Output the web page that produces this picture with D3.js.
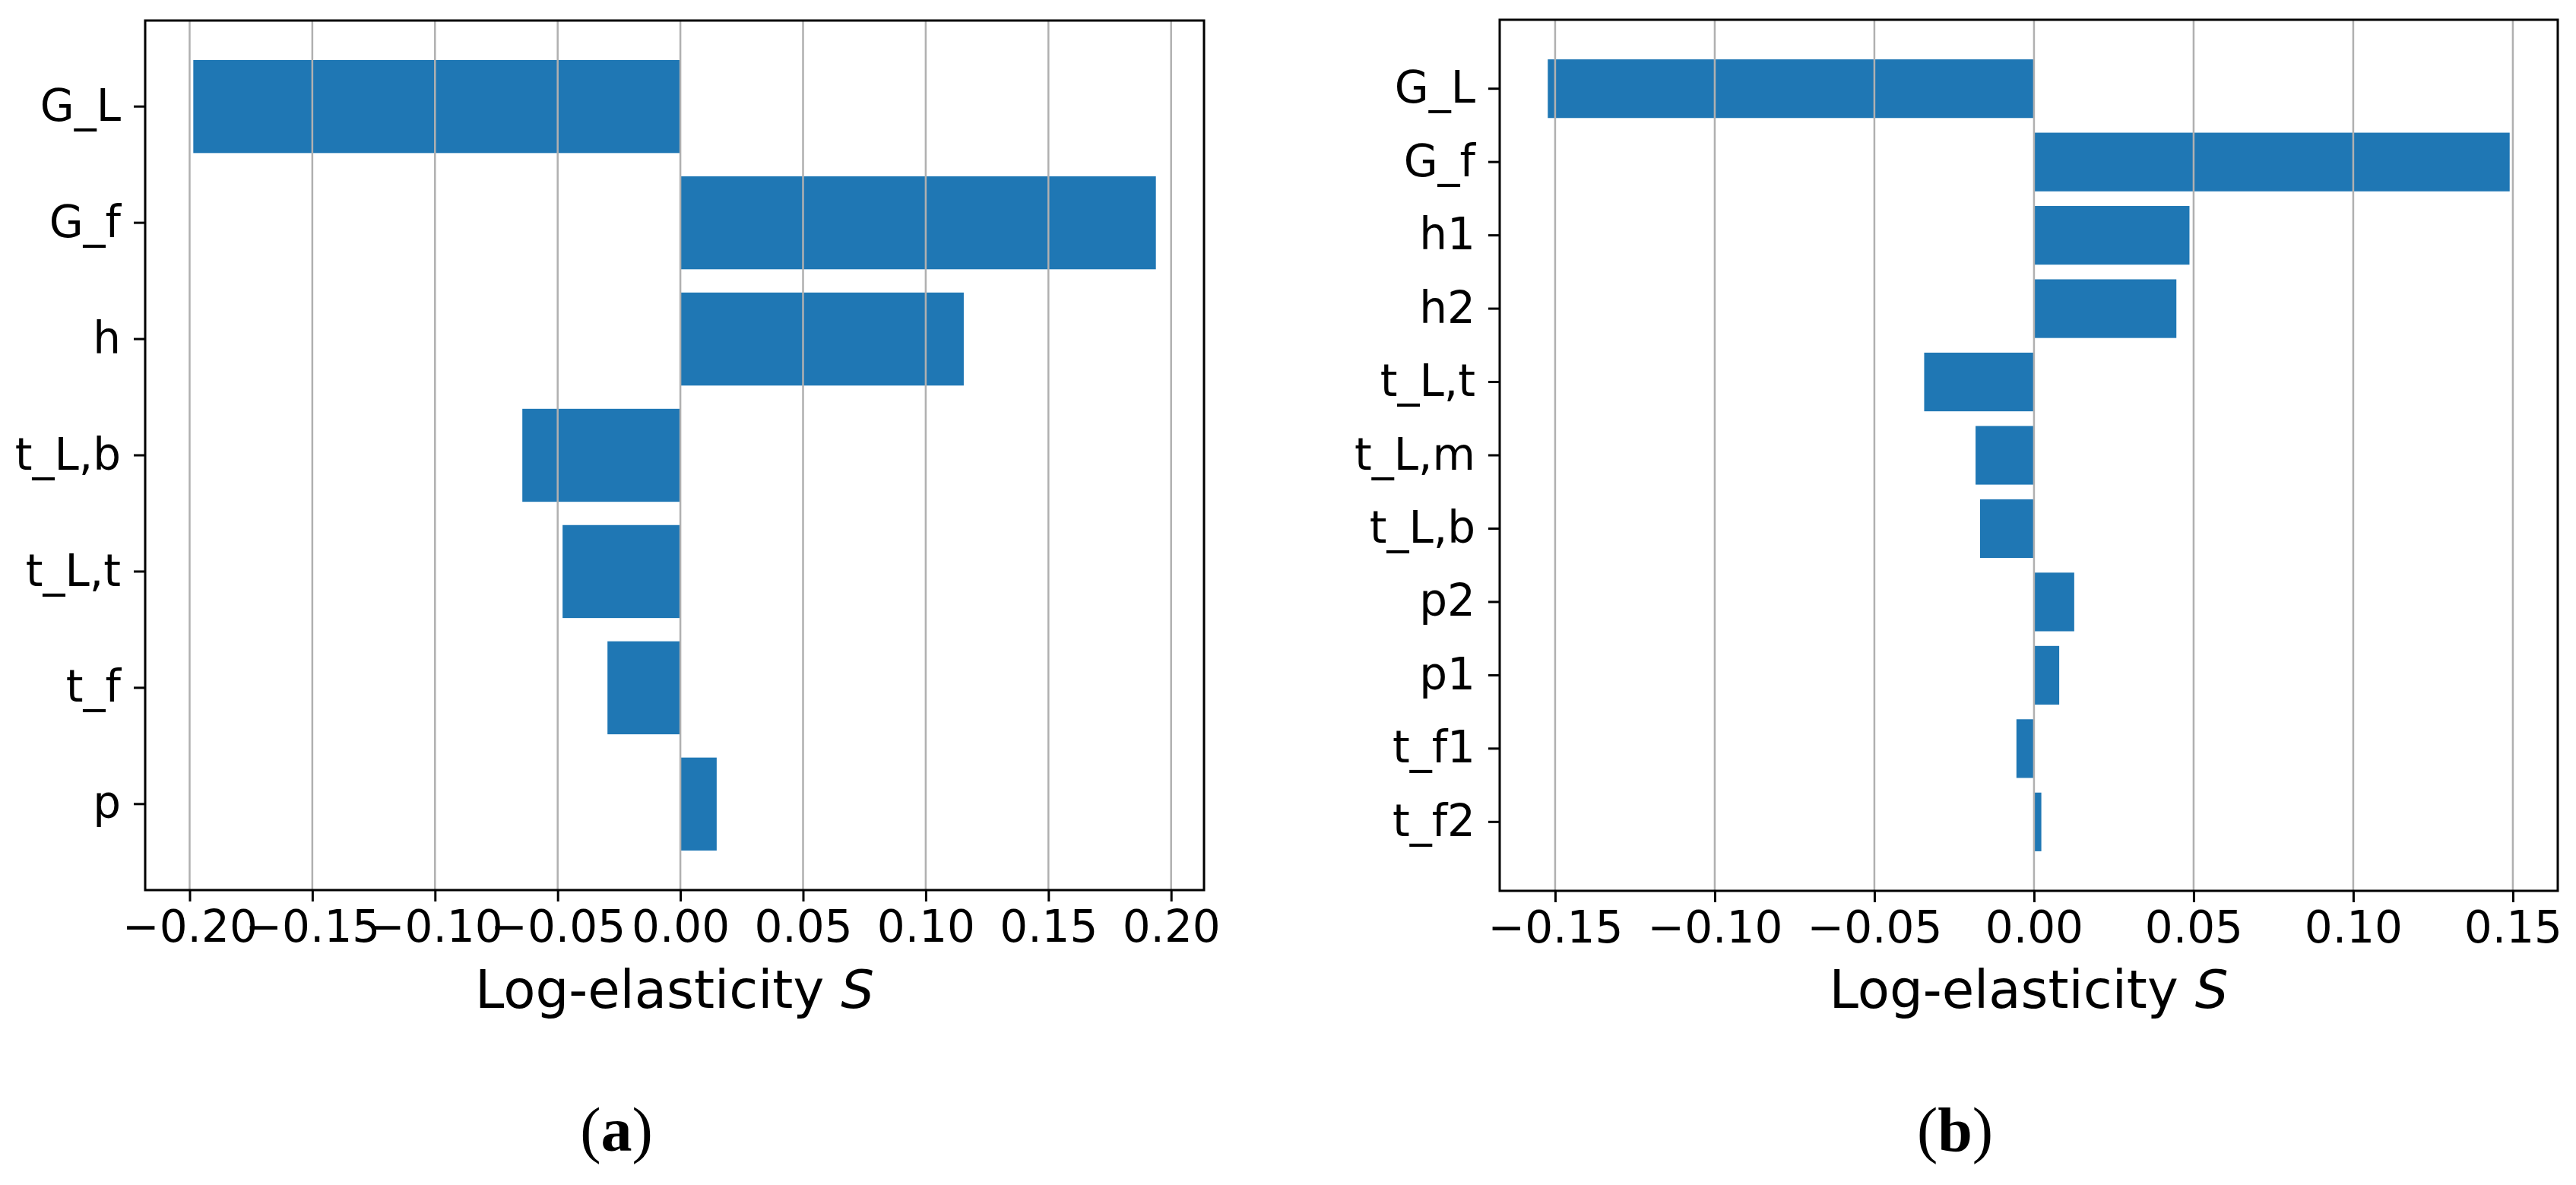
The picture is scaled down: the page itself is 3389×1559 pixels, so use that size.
<!DOCTYPE html>
<html>
<head>
<meta charset="utf-8">
<script src="https://cdn.jsdelivr.net/npm/d3@7"></script>
<style>
  html, body { margin: 0; padding: 0; background: #fff; }
  svg { display: block; }
  .tick text { font-family: "DejaVu Sans", sans-serif; }
</style>
</head>
<body>
<svg id="chart"></svg>
<script>
// panel (a)
const catsA = ["G_L", "G_f", "h", "t_L,b", "t_L,t", "t_f", "p"]
const valsA = [-0.1985, 0.1938, 0.1155, -0.0644, -0.0480, -0.0297, 0.0148]
const ticksA = [-0.20, -0.15, -0.10, -0.05, 0.00, 0.05, 0.10, 0.15, 0.20]

// panel (b)
const catsB = ["G_L", "G_f", "h1", "h2", "t_L,t", "t_L,m", "t_L,b", "p2", "p1", "t_f1", "t_f2"]
const valsB = [-0.1523, 0.1490, 0.0487, 0.0446, -0.0344, -0.0183, -0.0169, 0.0126, 0.0079, -0.0055, 0.0023]
const ticksB = [-0.15, -0.10, -0.05, 0.00, 0.05, 0.10, 0.15]

const xLabel = "Log-elasticity "
const captions = ["a", "b"]

const width = 3389
const height = 1559

const svg = d3.select("#chart")
  .attr("width", width)
  .attr("height", height)
  .attr("viewBox", `0 0 ${width} ${height}`)

svg.append("rect")
  .attr("width", width)
  .attr("height", height)
  .attr("fill", "#fff")

const fmt = d3.format(".2f")
const tickFmt = function(d) { return fmt(d).replace("-", "\u2212") }

function panel(box, cats, vals, ticks, caption) {
  const g = svg.append("g")

  // matplotlib style 5% margins around the data
  const lo = Math.min(0, d3.min(vals))
  const hi = Math.max(0, d3.max(vals))
  const m = (hi - lo) * 0.05
  const x = d3.scaleLinear()
    .domain([lo - m, hi + m])
    .range([box.left, box.right])

  // bar height 0.8, outer margin 5% of the bar extent
  const outer = (cats.length - 0.2) * 0.05
  const y = d3.scaleBand()
    .domain(cats)
    .range([box.top, box.bottom])
    .paddingInner(0.2)
    .paddingOuter(outer)

  const data = cats.map(function(c, i) { return { cat: c, value: vals[i] } })

  g.append("g")
    .attr("class", "bars")
    .selectAll("rect")
    .data(data)
    .enter()
    .append("rect")
    .attr("x", function(d) { return x(Math.min(0, d.value)) })
    .attr("y", function(d) { return y(d.cat) })
    .attr("width", function(d) { return Math.abs(x(d.value) - x(0)) })
    .attr("height", y.bandwidth())
    .attr("fill", "#1f77b4")

  // grid on top of the bars
  g.append("g")
    .attr("class", "grid")
    .selectAll("line")
    .data(ticks)
    .enter()
    .append("line")
    .attr("x1", function(d) { return x(d) })
    .attr("x2", function(d) { return x(d) })
    .attr("y1", box.top)
    .attr("y2", box.bottom)
    .attr("stroke", "#b0b0b0")
    .attr("stroke-width", 2.5)

  // frame
  g.append("rect")
    .attr("x", box.left)
    .attr("y", box.top)
    .attr("width", box.right - box.left)
    .attr("height", box.bottom - box.top)
    .attr("fill", "none")
    .attr("stroke", "#000")
    .attr("stroke-width", 3)

  const xAxis = g.append("g")
    .attr("transform", `translate(0,${box.bottom})`)
    .call(d3.axisBottom(x).tickValues(ticks).tickFormat(tickFmt).tickSize(15).tickPadding(12))
  xAxis.select(".domain").remove()
  xAxis.selectAll(".tick line").attr("stroke-width", 3)
  xAxis.selectAll(".tick text").attr("font-size", 58).attr("fill", "#000")

  const yAxis = g.append("g")
    .attr("transform", `translate(${box.left},0)`)
    .call(d3.axisLeft(y).tickSize(15).tickPadding(17))
  yAxis.select(".domain").remove()
  yAxis.selectAll(".tick line").attr("stroke-width", 3)
  yAxis.selectAll(".tick text").attr("font-size", 58).attr("fill", "#000")

  const label = g.append("text")
    .attr("x", (box.left + box.right) / 2)
    .attr("y", 1326)
    .attr("text-anchor", "middle")
    .attr("font-family", "DejaVu Sans, sans-serif")
    .attr("font-size", 69)
    .attr("fill", "#000")
  label.append("tspan").text(xLabel)
  label.append("tspan").attr("font-style", "italic").text("S")

  const cap = g.append("text")
    .attr("x", box.capX)
    .attr("y", 1514)
    .attr("text-anchor", "middle")
    .attr("font-family", "Liberation Serif, serif")
    .attr("font-size", 82)
    .attr("fill", "#000")
  cap.append("tspan").text("(")
  cap.append("tspan").attr("font-weight", "bold").text(caption)
  cap.append("tspan").text(")")
}

panel({ left: 191, right: 1584, top: 27, bottom: 1171, capX: 811 }, catsA, valsA, ticksA, captions[0])
panel({ left: 1973, right: 3365, top: 26, bottom: 1172, capX: 2572 }, catsB, valsB, ticksB, captions[1])
</script>
</body>
</html>
